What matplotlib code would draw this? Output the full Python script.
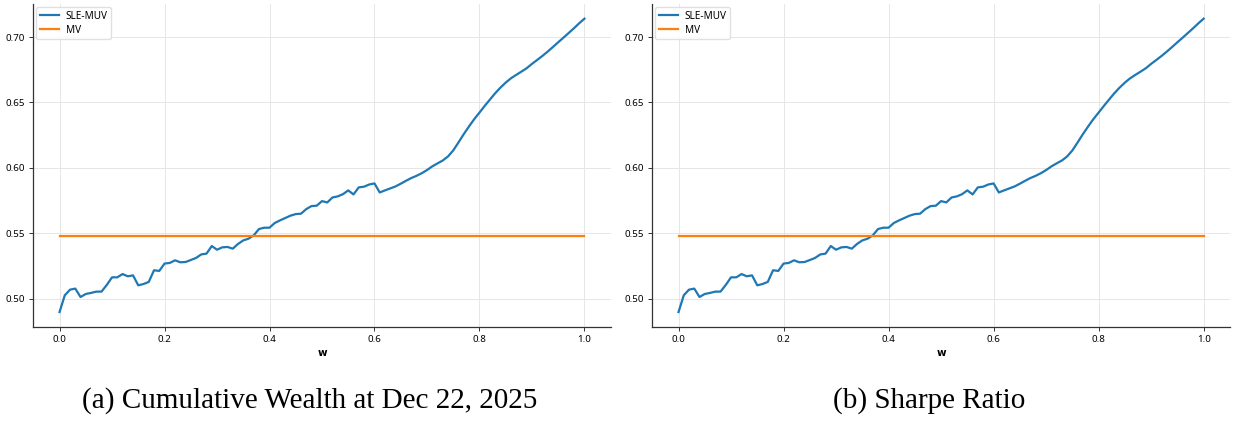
import matplotlib.pyplot as plt
import numpy as np

# weight grid w = 0.00 ... 1.00
w = np.linspace(0, 1, 101)

sle_muv = [
    0.4900, 0.5028, 0.5071, 0.5079, 0.5015, 0.5038, 0.5046, 0.5056, 0.5056, 0.5107,
    0.5165, 0.5165, 0.5190, 0.5173, 0.5180, 0.5104, 0.5114, 0.5130, 0.5219, 0.5214,
    0.5270, 0.5275, 0.5295, 0.5280, 0.5282, 0.5297, 0.5313, 0.5340, 0.5346, 0.5404,
    0.5376, 0.5394, 0.5397, 0.5384, 0.5420, 0.5447, 0.5460, 0.5486, 0.5534, 0.5544,
    0.5544, 0.5580, 0.5600, 0.5618, 0.5636, 0.5648, 0.5651, 0.5686, 0.5709, 0.5712,
    0.5747, 0.5737, 0.5775, 0.5783, 0.5800, 0.5829, 0.5798, 0.5852, 0.5857, 0.5874,
    0.5882, 0.5813, 0.5829, 0.5844, 0.5859, 0.5880, 0.5902, 0.5923, 0.5940, 0.5960,
    0.5984, 0.6012, 0.6035, 0.6057, 0.6088, 0.6134, 0.6195, 0.6258, 0.6317, 0.6373,
    0.6423, 0.6474, 0.6523, 0.6571, 0.6614, 0.6652, 0.6685, 0.6711, 0.6736, 0.6762,
    0.6795, 0.6825, 0.6856, 0.6889, 0.6924, 0.6960, 0.6995, 0.7031, 0.7067, 0.7105,
    0.7140,
]
mv = 0.548

captions = ["(a) Cumulative Wealth at Dec 22, 2025", "(b) Sharpe Ratio"]

plt.rcParams['font.family'] = ['Noto Sans', 'DejaVu Sans']

fig = plt.figure(figsize=(12.33, 4.22), dpi=100)
ax_left = fig.add_axes([0.0270, 0.2258, 0.4683, 0.7647])
ax_right = fig.add_axes([0.5290, 0.2258, 0.4685, 0.7647])

for ax in (ax_left, ax_right):
    ax.plot(w, sle_muv, color='#1f77b4', lw=1.6, label='SLE-MUV')
    ax.plot(w, [mv] * len(w), color='#ff7f0e', lw=1.6, label='MV')
    ax.set_xticks([0.0, 0.2, 0.4, 0.6, 0.8, 1.0])
    ax.set_yticks([0.50, 0.55, 0.60, 0.65, 0.70])
    ax.grid(True, color='#e6e6e6', lw=0.7)
    ax.set_axisbelow(True)
    for s in ('top', 'right'):
        ax.spines[s].set_visible(False)
    for s in ('left', 'bottom'):
        ax.spines[s].set_color('#333333')
        ax.spines[s].set_linewidth(0.9)
    ax.tick_params(labelsize=7, length=3, width=0.7, color='#333333', pad=3)
    ax.set_xlabel('w', fontsize=7.5, fontweight='bold', family='DejaVu Sans', labelpad=3)
    ax.legend(loc='upper left', fontsize=7.2, handlelength=1.9, handletextpad=0.7,
              borderaxespad=0.3, borderpad=0.35, labelspacing=0.3,
              framealpha=0.9, edgecolor='#dddddd', fancybox=True)

fig.text(310 / 1233, 1 - 401 / 422, captions[0], ha='center', va='center',
         family='Liberation Serif', fontsize=21)
fig.text(929 / 1233, 1 - 401 / 422, captions[1], ha='center', va='center',
         family='Liberation Serif', fontsize=21)

fig.savefig('out.png', dpi=100)
